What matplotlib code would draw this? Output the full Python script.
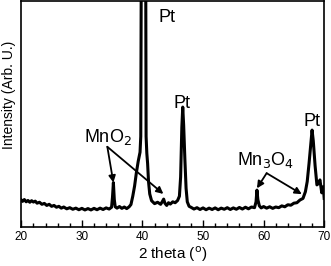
import numpy as np
import matplotlib.pyplot as plt
from matplotlib.ticker import MultipleLocator

plt.rcParams['font.family'] = ['Liberation Sans', 'DejaVu Sans']

# XRD pattern (2 theta in degrees, intensity in arb. units)
two_theta = [20.0, 20.2, 20.5, 20.8, 21.1, 21.4, 21.7, 22.0, 22.3, 22.6, 23.0, 23.4,
             23.8, 24.2, 24.6, 25.0, 25.4, 25.8, 26.2, 26.6, 27.0, 27.5, 28.0, 28.5,
             29.0, 29.5, 30.0, 30.5, 31.0, 31.5, 32.0, 32.5, 33.0, 33.5, 34.0, 34.5,
             34.9, 35.05, 35.2, 35.35, 35.5, 35.8, 36.2, 36.6, 37.0, 37.4, 37.8, 38.1,
             38.4, 38.7, 39.0, 39.3, 39.6, 39.72, 39.85, 40.5, 40.6, 40.72, 40.85, 41.0,
             41.2, 41.5, 42.0, 42.5, 43.0, 43.3, 43.5, 43.7, 44.0, 44.3, 44.6, 45.0,
             45.4, 45.8, 46.1, 46.3, 46.5, 46.65, 46.8, 47.0, 47.2, 47.4, 47.7, 48.0,
             48.5, 49.0, 49.5, 50.0, 50.5, 51.0, 51.5, 52.0, 52.5, 53.0, 53.5, 54.0,
             54.5, 55.0, 55.5, 56.0, 56.5, 57.0, 57.5, 58.0, 58.5, 58.75, 58.9, 59.05,
             59.3, 59.6, 60.0, 60.5, 61.0, 61.5, 62.0, 62.5, 63.0, 63.5, 64.0, 64.5,
             65.0, 65.5, 66.0, 66.5, 66.9, 67.2, 67.5, 67.8, 68.0, 68.2, 68.5, 68.8,
             69.0, 69.3, 69.6, 69.85, 70.0]
intensity = [11.8, 11.2, 12.0, 11.0, 11.6, 10.8, 11.5, 10.9, 11.3, 10.4, 10.8, 9.9,
             10.3, 9.4, 9.9, 9.0, 9.4, 8.6, 9.0, 8.2, 8.7, 7.9, 8.4, 7.7,
             8.2, 7.5, 8.1, 7.4, 8.0, 7.4, 8.1, 7.5, 8.2, 7.6, 8.3, 7.8,
             8.6, 13.0, 19.5, 12.0, 8.8, 8.2, 8.9, 8.1, 8.7, 8.0, 8.8, 9.8,
             13.5, 18.0, 24.0, 29.0, 33.0, 40.0, 160.0, 160.0, 40.0, 32.5, 28.0, 20.0,
             14.5, 11.5, 10.2, 10.8, 9.9, 11.2, 12.2, 10.4, 9.4, 10.6, 10.0, 11.0,
             10.6, 11.6, 13.5, 22.0, 44.0, 53.0, 45.0, 30.0, 17.0, 11.0, 9.0, 8.6,
             7.8, 8.4, 7.6, 8.3, 7.5, 8.2, 7.6, 8.3, 7.5, 8.2, 7.7, 8.4,
             7.6, 8.3, 7.7, 8.5, 7.8, 8.6, 7.9, 8.7, 8.4, 11.0, 16.2, 12.0,
             9.2, 8.3, 8.9, 8.2, 8.8, 8.1, 8.7, 8.4, 9.2, 8.8, 9.7, 9.5,
             10.4, 10.6, 11.8, 12.5, 15.5, 20.0, 28.0, 37.0, 42.8, 38.0, 27.0, 18.5,
             19.0, 20.7, 15.0, 17.7, 12.5]

fig = plt.figure(figsize=(3.31, 2.66), dpi=100)
ax = fig.add_axes([0.0644, 0.148, 0.915, 0.848])
ax.plot(two_theta, intensity, color='black', lw=2.2)

ax.set_xlim(20, 70)
ax.set_ylim(0, 100)
ax.xaxis.set_major_locator(MultipleLocator(10))
ax.xaxis.set_minor_locator(MultipleLocator(2))
ax.tick_params(axis='x', which='major', direction='in', length=5, width=1, labelsize=8.5, pad=3)
ax.tick_params(axis='x', which='minor', direction='in', length=3, width=1)
ax.set_yticks([])
for sp in ax.spines.values():
    sp.set_linewidth(1.2)

ax.set_xlabel('2 theta ($^{\\mathrm{o}}$)', fontsize=11, labelpad=1)
ax.set_ylabel('Intensity (Arb. U.)', fontsize=10)
ax.yaxis.set_label_coords(-0.018, 0.585)

# peak labels
ax.text(44.1, 92.5, 'Pt', fontsize=13, ha='center', va='center')
ax.text(46.5, 54.7, 'Pt', fontsize=13, ha='center', va='center')
ax.text(68.0, 46.4, 'Pt', fontsize=13, ha='center', va='center')
ax.text(34.3, 39.7, 'MnO$_2$', fontsize=13, ha='center', va='center')
ax.text(60.4, 29.5, 'Mn$_3$O$_4$', fontsize=13, ha='center', va='center')

arrow = dict(arrowstyle='-|>', color='black', lw=1.3, mutation_scale=10, shrinkA=0, shrinkB=0)
ax.annotate('', xy=(35.2, 19.5), xytext=(34.2, 35.4), arrowprops=arrow)
ax.annotate('', xy=(43.45, 14.5), xytext=(34.2, 35.4), arrowprops=arrow)
ax.annotate('', xy=(58.9, 17.0), xytext=(60.5, 23.7), arrowprops=arrow)
ax.annotate('', xy=(66.3, 14.4), xytext=(60.5, 23.7), arrowprops=arrow)

fig.savefig('out.png', dpi=100)
